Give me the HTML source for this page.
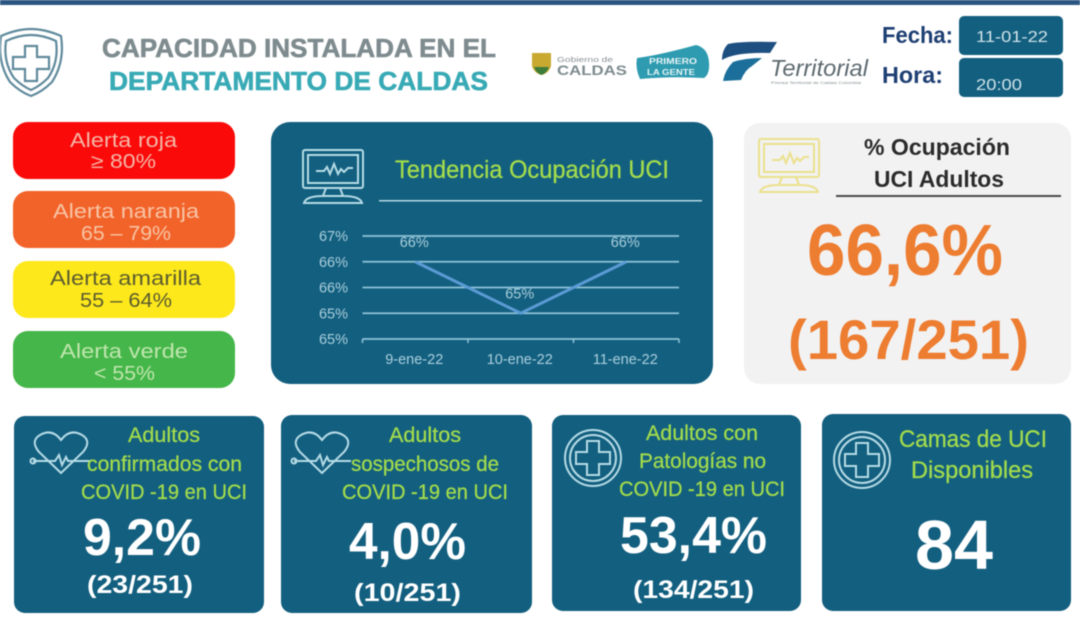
<!DOCTYPE html>
<html lang="es">
<head>
<meta charset="utf-8">
<title>Capacidad instalada en el Departamento de Caldas</title>
<style>
html,body{margin:0;padding:0;background:#fff;width:1080px;height:623px;overflow:hidden}
svg{display:block;filter:blur(.6px)}
text{font-family:"Liberation Sans",sans-serif}
.g{fill:#a3dc4c;font-size:21px;stroke:#a3dc4c;stroke-width:.25px}
.w{fill:#fff;font-weight:bold}
.card{fill:#135f7f}
.ic{fill:none;stroke:#b5dbe6;stroke-width:2}
.t{font-size:20px}
</style>
</head>
<body>
<svg id="page" xmlns="http://www.w3.org/2000/svg" width="1080" height="623" viewBox="0 0 1080 623">
<rect x="0" y="0" width="1080" height="5" fill="#2c5682"/>

<g fill="none" stroke="#5f8a9c" stroke-width="2.200">
<path d="M31 29 Q45 29 61 36 Q65 62 52 82 Q42 92 31 96 Q20 92 10 82 Q-3 62 1 36 Q17 29 31 29Z"/>
<path d="M31 35 Q43 35 56 41 Q59 62 48 78 Q40 86 31 90 Q22 86 14 78 Q3 62 6 41 Q19 35 31 35Z"/>
<path d="M25 46h12v11h12v12H37v12H25V69H13V57h12Z"/>
</g>
<text x="102" y="57" font-size="26" font-weight="bold" fill="#7e8b8f" stroke="#7e8b8f" stroke-width=".6" textLength="394" lengthAdjust="spacingAndGlyphs">CAPACIDAD INSTALADA EN EL</text>
<text x="109" y="90" font-size="26" font-weight="bold" fill="#38aab5" stroke="#38aab5" stroke-width=".6" textLength="379" lengthAdjust="spacingAndGlyphs">DEPARTAMENTO DE CALDAS</text>

<g>
<path d="M532 53h19v13q-2 7-9.500 9q-7.500-2-9.500-9Z" fill="#c9a92f"/>
<path d="M534 67h15q-2 6-7.500 8q-5.500-2-7.500-8Z" fill="#3f7d3a"/>
<text x="557" y="62" font-size="7" fill="#8a9296" textLength="56" lengthAdjust="spacingAndGlyphs">Gobierno de</text>
<text x="557" y="75" font-size="14" font-weight="bold" fill="#7e8b8f" textLength="70" lengthAdjust="spacingAndGlyphs">CALDAS</text>
</g>
<g>
<path d="M637 58Q660 55 696 45Q708 48 709 62Q710 74 704 78Q670 76 640 79Q635 68 637 58Z" fill="#2e9bb0"/>
<text x="649" y="64" font-size="8" font-weight="bold" fill="#e8f5f7" textLength="48" lengthAdjust="spacingAndGlyphs">PRIMERO</text>
<text x="647" y="75" font-size="8" font-weight="bold" fill="#e8f5f7" textLength="48" lengthAdjust="spacingAndGlyphs">LA GENTE</text>
</g>
<g>
<path d="M728 44Q740 41 777 42L770 53Q735 52 722 60Q722 50 728 44Z" fill="#1d4f80"/>
<path d="M733 62Q745 58 762 58L752 66Q745 70 741 80L723 81Q725 70 733 62Z" fill="#1b6f9a"/>
<text x="770" y="76" font-size="23" font-style="italic" fill="#5d6a70" textLength="98" lengthAdjust="spacingAndGlyphs">Territorial</text>
<text x="771" y="84" font-size="4" fill="#7e8b8f" textLength="90" lengthAdjust="spacingAndGlyphs">Prensa Territorial de Caldas Colombia</text>
</g>

<text x="882" y="43" font-size="23" font-weight="bold" fill="#1e3f73" textLength="71" lengthAdjust="spacingAndGlyphs">Fecha:</text>
<text x="882" y="83" font-size="23" font-weight="bold" fill="#1e3f73" textLength="61" lengthAdjust="spacingAndGlyphs">Hora:</text>
<rect x="959" y="16" width="104" height="39" rx="5" class="card"/>
<rect x="959" y="58" width="104" height="39" rx="5" class="card"/>
<text x="976" y="42" font-size="16" fill="#cfe3ea" textLength="72" lengthAdjust="spacingAndGlyphs">11-01-22</text>
<text x="976" y="90" font-size="16" fill="#cfe3ea" textLength="46" lengthAdjust="spacingAndGlyphs">20:00</text>

<g>
<rect x="13" y="122" width="222" height="57" rx="15" fill="#fb0a0a"/>
<text class="t" x="70" y="147" fill="#f5b5a5" textLength="107" lengthAdjust="spacingAndGlyphs">Alerta roja</text>
<text class="t" x="91" y="168" fill="#f5b5a5" textLength="65" lengthAdjust="spacingAndGlyphs">≥ 80%</text>
</g>
<g>
<rect x="13" y="191" width="222" height="57" rx="15" fill="#f2632a"/>
<text class="t" x="53" y="218" fill="#f8c4a4" textLength="146" lengthAdjust="spacingAndGlyphs">Alerta naranja</text>
<text class="t" x="81" y="240" fill="#f8c4a4" textLength="90" lengthAdjust="spacingAndGlyphs">65 – 79%</text>
</g>
<g>
<rect x="13" y="261" width="222" height="57" rx="15" fill="#fde81c"/>
<text class="t" x="50" y="285" fill="#5b5c2e" textLength="151" lengthAdjust="spacingAndGlyphs">Alerta amarilla</text>
<text class="t" x="80" y="307" fill="#5b5c2e" textLength="92" lengthAdjust="spacingAndGlyphs">55 – 64%</text>
</g>
<g>
<rect x="13" y="331" width="222" height="57" rx="15" fill="#45b649"/>
<text class="t" x="60" y="358" fill="#bfe6ae" textLength="128" lengthAdjust="spacingAndGlyphs">Alerta verde</text>
<text class="t" x="94" y="380" fill="#bfe6ae" textLength="61" lengthAdjust="spacingAndGlyphs">&lt; 55%</text>
</g>

<rect x="271" y="122" width="442" height="262" rx="19" class="card"/>
<g class="ic">
<rect x="303" y="150" width="60" height="38" rx="2"/>
<rect x="308" y="155" width="50" height="28"/>
<path d="M316 171h8l3-4 3 7 4-10 4 10 3-5 3 3 4-4h5"/>
<path d="M326 188l-3 8h20l-3-8M304 203q2-7 19-7h20q17 0 19 7Z"/>
</g>
<text x="395" y="178" font-size="25" fill="#a3dc4c" stroke="#a3dc4c" stroke-width=".3" textLength="274" lengthAdjust="spacingAndGlyphs">Tendencia Ocupación UCI</text>
<rect x="379" y="200" width="323" height="1.500" fill="#b5dbe6"/>
<g id="chart"></g>

<rect x="744" y="123" width="327" height="261" rx="16" fill="#f2f2f2"/>
<g fill="none" stroke="#ebe08c" stroke-width="2">
<rect x="759" y="139" width="60" height="38" rx="2"/>
<rect x="764" y="144" width="50" height="28"/>
<path d="M772 160h8l3-4 3 7 4-10 4 10 3-5 3 3 4-4h5"/>
<path d="M782 177l-3 8h20l-3-8M760 192q2-7 19-7h20q17 0 19 7Z"/>
</g>
<text x="864" y="155" font-size="23" font-weight="bold" fill="#2b2b2b" textLength="146" lengthAdjust="spacingAndGlyphs">% Ocupación</text>
<text x="874" y="187" font-size="23" font-weight="bold" fill="#2b2b2b" textLength="130" lengthAdjust="spacingAndGlyphs">UCI Adultos</text>
<rect x="836" y="195" width="225" height="2" fill="#4a4a4a"/>
<text x="807" y="275" font-size="72" font-weight="bold" fill="#ed7d31" textLength="196" lengthAdjust="spacingAndGlyphs">66,6%</text>
<text x="788" y="359" font-size="56" font-weight="bold" fill="#ed7d31" textLength="241" lengthAdjust="spacingAndGlyphs">(167/251)</text>

<g>
<rect x="14" y="416" width="250" height="197" rx="11" class="card"/>
<g class="ic">
<path d="M61 473L39 452Q30 441 40 435Q52 428 61 440Q70 428 82 435Q92 441 83 452Z"/>
<path d="M33 461h22l4-6 3 10 4-8 2 4h22"/><circle cx="33" cy="461" r="2.500"/>
</g>
<text class="g" x="128" y="442" textLength="72" lengthAdjust="spacingAndGlyphs">Adultos</text>
<text class="g" x="87" y="471" textLength="155" lengthAdjust="spacingAndGlyphs">confirmados con</text>
<text class="g" x="81" y="499" textLength="166" lengthAdjust="spacingAndGlyphs">COVID -19 en UCI</text>
<text class="w" x="83" y="555" font-size="52" textLength="118" lengthAdjust="spacingAndGlyphs">9,2%</text>
<text class="w" x="87" y="593" font-size="25" fill="#e8eef0" textLength="106" lengthAdjust="spacingAndGlyphs">(23/251)</text>
</g>
<g>
<rect x="281" y="415" width="251" height="198" rx="11" class="card"/>
<g class="ic">
<path d="M322 473L300 452Q291 441 301 435Q313 428 322 440Q331 428 343 435Q353 441 344 452Z"/>
<path d="M294 461h22l4-6 3 10 4-8 2 4h22"/><circle cx="294" cy="461" r="2.500"/>
</g>
<text class="g" x="389" y="442" textLength="72" lengthAdjust="spacingAndGlyphs">Adultos</text>
<text class="g" x="351" y="471" textLength="148" lengthAdjust="spacingAndGlyphs">sospechosos de</text>
<text class="g" x="342" y="499" textLength="166" lengthAdjust="spacingAndGlyphs">COVID -19 en UCI</text>
<text class="w" x="349" y="559" font-size="52" textLength="117" lengthAdjust="spacingAndGlyphs">4,0%</text>
<text class="w" x="354" y="601" font-size="25" textLength="107" lengthAdjust="spacingAndGlyphs">(10/251)</text>
</g>
<g>
<rect x="552" y="415" width="249" height="196" rx="11" class="card"/>
<g class="ic">
<circle cx="593" cy="458" r="28"/><circle cx="593" cy="458" r="23"/>
<path d="M587 441h12v11h11v12h-11v11h-12v-11h-11v-12h11Z"/>
</g>
<text class="g" x="646" y="440" textLength="112" lengthAdjust="spacingAndGlyphs">Adultos con</text>
<text class="g" x="639" y="468" textLength="127" lengthAdjust="spacingAndGlyphs">Patologías no</text>
<text class="g" x="619" y="496" textLength="166" lengthAdjust="spacingAndGlyphs">COVID -19 en UCI</text>
<text class="w" x="620" y="553" font-size="52" textLength="147" lengthAdjust="spacingAndGlyphs">53,4%</text>
<text class="w" x="633" y="598" font-size="25" textLength="121" lengthAdjust="spacingAndGlyphs">(134/251)</text>
</g>
<g>
<rect x="822" y="414" width="249" height="197" rx="11" class="card"/>
<g class="ic">
<circle cx="862" cy="460" r="28"/><circle cx="862" cy="460" r="23"/>
<path d="M856 443h12v11h11v12h-11v11h-12v-11h-11v-12h11Z"/>
</g>
<text class="g" x="899" y="447" style="font-size:24px" textLength="148" lengthAdjust="spacingAndGlyphs">Camas de UCI</text>
<text class="g" x="911" y="478" style="font-size:24px" textLength="122" lengthAdjust="spacingAndGlyphs">Disponibles</text>
<text class="w" x="915" y="569" font-size="70" textLength="78" lengthAdjust="spacingAndGlyphs">84</text>
</g>
</svg>
<script>
var categories = ['9-ene-22', '10-ene-22', '11-ene-22'];
var occupancyValues = [66.1, 65.3, 66.1];
var tickValues = [64.9, 65.3, 65.7, 66.1, 66.5];
var tickLabels = ['65%', '65%', '66%', '66%', '67%'];

var NS = 'http://www.w3.org/2000/svg';
var chart = document.getElementById('chart');
var plot = {left: 362.5, right: 679, top: 236, bottom: 339};

function yScale(v) {
  var lo = tickValues[0], hi = tickValues[tickValues.length - 1];
  return plot.bottom - (v - lo) / (hi - lo) * (plot.bottom - plot.top);
}
function bandEdge(i) {
  return plot.left + i * (plot.right - plot.left) / categories.length;
}
function xScale(i) {
  return bandEdge(i + 0.5);
}
function make(tag, attrs, parent) {
  var el = document.createElementNS(NS, tag);
  for (var k in attrs) el.setAttribute(k, attrs[k]);
  parent.appendChild(el);
  return el;
}

tickValues.forEach(function (v, i) {
  var line = make('line', {x1: plot.left, x2: plot.right, y1: yScale(v), y2: yScale(v), stroke: '#8fc3d8', 'stroke-width': 1.8}, chart);
  
  
  var label = make('text', {x: 348, y: yScale(v) + 5, 'text-anchor': 'end', 'font-size': 14.5, fill: '#a9cfdd'}, chart);
  label.textContent = tickLabels[i];
  
  
});

for (var e = 0; e <= categories.length; e++) {
  var tick = make('line', {x1: bandEdge(e), x2: bandEdge(e), y1: plot.bottom, y2: plot.bottom + 4, stroke: '#8fc3d8', 'stroke-width': 1.5}, chart);
  
  
}

categories.forEach(function (c, i) {
  var label = make('text', {x: xScale(i) - 1, y: 364, 'text-anchor': 'middle', 'font-size': 14.5, fill: '#a9cfdd'}, chart);
  label.textContent = c;
  
  
});

var pts = occupancyValues.map(function (v, i) { return xScale(i) + ',' + yScale(v); }).join(' ');
var series = make('polyline', {points: pts, fill: 'none', stroke: '#5b9bd5', 'stroke-width': 3}, chart);



occupancyValues.forEach(function (v, i) {
  var label = make('text', {x: xScale(i) - 1, y: yScale(v) - 15, 'text-anchor': 'middle', 'font-size': 14.5, fill: '#a9cfdd'}, chart);
  label.textContent = Math.round(v) + '%';
  
  
});
</script>
</body>
</html>
